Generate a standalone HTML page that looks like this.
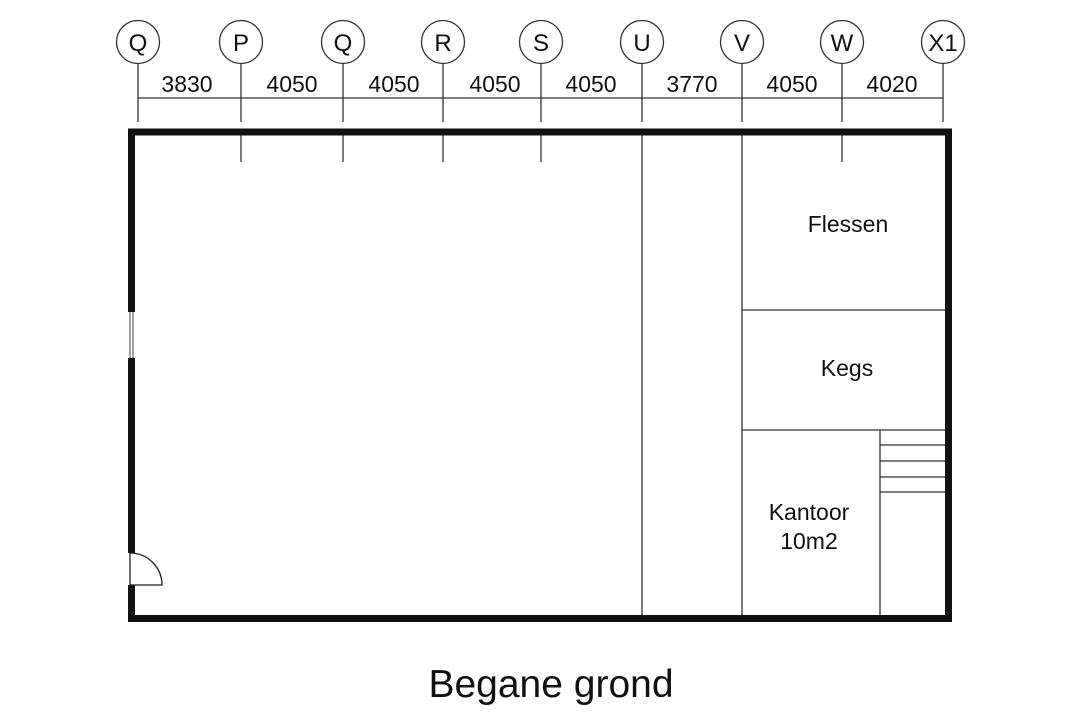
<!DOCTYPE html>
<html><head><meta charset="utf-8"><style>
html,body{margin:0;padding:0;background:#fff}
svg{display:block}
text{font-family:"Liberation Sans",sans-serif;fill:#111}
</style></head><body>
<svg width="1080" height="720" viewBox="0 0 1080 720">
<g stroke="#333" stroke-width="1.3" fill="none">
<line x1="138" y1="98" x2="943" y2="98"/>
<line x1="138" y1="64" x2="138" y2="122"/>
<line x1="241" y1="64" x2="241" y2="122"/>
<line x1="343" y1="64" x2="343" y2="122"/>
<line x1="443" y1="64" x2="443" y2="122"/>
<line x1="541" y1="64" x2="541" y2="122"/>
<line x1="642" y1="64" x2="642" y2="122"/>
<line x1="742" y1="64" x2="742" y2="122"/>
<line x1="842" y1="64" x2="842" y2="122"/>
<line x1="943" y1="64" x2="943" y2="122"/>
<line x1="241" y1="135" x2="241" y2="162"/>
<line x1="343" y1="135" x2="343" y2="162"/>
<line x1="443" y1="135" x2="443" y2="162"/>
<line x1="541" y1="135" x2="541" y2="162"/>
<line x1="842" y1="135" x2="842" y2="162"/>
<line x1="642" y1="135" x2="642" y2="617"/>
<line x1="742" y1="135" x2="742" y2="617"/>
<line x1="742" y1="310" x2="946" y2="310"/>
<line x1="742" y1="430" x2="946" y2="430"/>
<line x1="880" y1="430" x2="880" y2="617"/>
<line x1="880" y1="445" x2="946" y2="445"/>
<line x1="880" y1="461" x2="946" y2="461"/>
<line x1="880" y1="477" x2="946" y2="477"/>
<line x1="880" y1="492" x2="946" y2="492"/>
<circle cx="138" cy="42" r="21.5" fill="#fff"/>
<circle cx="241" cy="42" r="21.5" fill="#fff"/>
<circle cx="343" cy="42" r="21.5" fill="#fff"/>
<circle cx="443" cy="42" r="21.5" fill="#fff"/>
<circle cx="541" cy="42" r="21.5" fill="#fff"/>
<circle cx="642" cy="42" r="21.5" fill="#fff"/>
<circle cx="742" cy="42" r="21.5" fill="#fff"/>
<circle cx="842" cy="42" r="21.5" fill="#fff"/>
<circle cx="943" cy="42" r="21.5" fill="#fff"/>
</g>
<rect x="131.5" y="132" width="817" height="486.5" fill="none" stroke="#111" stroke-width="7"/>
<rect x="128" y="312" width="7" height="46" fill="#fff"/>
<line x1="130" y1="312" x2="130" y2="358" stroke="#444" stroke-width="1"/>
<line x1="133" y1="312" x2="133" y2="358" stroke="#444" stroke-width="1"/>
<rect x="128" y="553" width="7" height="32" fill="#fff"/>
<path d="M130 553 A32 32 0 0 1 162 585 L130 585 Z" fill="#fff" stroke="#222" stroke-width="1.3"/>
<g font-size="24" text-anchor="middle">
<text x="138" y="51">Q</text><text x="241" y="51">P</text><text x="343" y="51">Q</text>
<text x="443" y="51">R</text><text x="541" y="51">S</text><text x="642" y="51">U</text>
<text x="742" y="51">V</text><text x="842" y="51">W</text><text x="943" y="51">X1</text>
</g>
<g font-size="23" text-anchor="middle">
<text x="187" y="92">3830</text><text x="292" y="92">4050</text><text x="394" y="92">4050</text>
<text x="495" y="92">4050</text><text x="591" y="92">4050</text><text x="692" y="92">3770</text>
<text x="792" y="92">4050</text><text x="892" y="92">4020</text>
</g>
<g font-size="23" text-anchor="middle">
<text x="848" y="232">Flessen</text>
<text x="847" y="376">Kegs</text>
<text x="809" y="520">Kantoor</text>
<text x="809" y="549">10m2</text>
</g>
<text x="551" y="697" font-size="39" text-anchor="middle">Begane grond</text>
</svg>
</body></html>
